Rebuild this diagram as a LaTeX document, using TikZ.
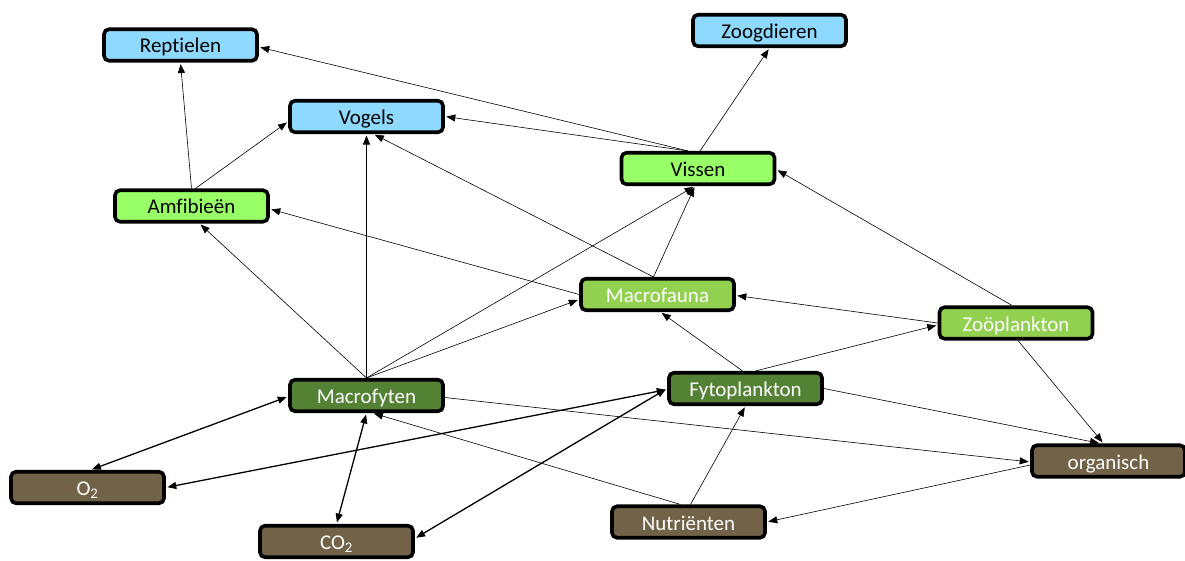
\documentclass[tikz,border=0pt]{standalone}
\usepackage{fontspec}
\setmainfont{Carlito}[Ligatures=NoCommon]
\usetikzlibrary{arrows.meta,calc}
\definecolor{cblue}{RGB}{142,217,255}
\definecolor{clgreen}{RGB}{153,255,102}
\definecolor{cmgreen}{RGB}{146,208,80}
\definecolor{cdgreen}{RGB}{84,130,53}
\definecolor{cbrown}{RGB}{114,98,72}
\begin{document}
\begin{tikzpicture}[x=1pt,y=-1pt,
  box/.style={draw=black,line width=3.6pt,rounded corners=5pt,minimum width=153pt,minimum height=31.5pt,inner sep=0pt,text height=16pt,text depth=0pt,font=\fontsize{21}{25}\selectfont},
  bluebox/.style={box,fill=cblue,text=black},
  lgbox/.style={box,fill=clgreen,text=black},
  mgbox/.style={box,fill=cmgreen,text=white},
  dgbox/.style={box,fill=cdgreen,text=white},
  brbox/.style={box,fill=cbrown,text=white},
  arr/.style={-{Triangle[length=9pt,width=7pt]},line width=0.6pt,shorten >=1.5pt},
  darr/.style={{Triangle[length=9pt,width=7pt]}-{Triangle[length=9pt,width=7pt]},line width=1.3pt,shorten >=1.5pt,shorten <=1.5pt}]
\useasboundingbox (0,0) rectangle (1185,561);
\clip (0,0) rectangle (1185,561);
\node[bluebox] (rep) at (180.5,45) {Reptielen};
\node[bluebox] (zoo) at (769.5,30.5) {Zoogdieren};
\node[bluebox] (vog) at (366.5,116.5) {Vogels};
\node[lgbox] (vis) at (698,168.5) {Vissen};
\node[lgbox] (amf) at (191.5,206) {Amfibieën};
\node[mgbox] (mfa) at (657.5,294.5) {Macrofauna};
\node[mgbox] (zop) at (1016,323) {Zoöplankton};
\node[dgbox] (mfy) at (366.5,395.5) {Macrofyten};
\node[dgbox] (fyt) at (745.5,388.5) {Fytoplankton};
\node[brbox] (o2) at (87.5,487.5) {O\textsubscript{2}};
\node[brbox] (co2) at (336.5,541.5) {CO\textsubscript{2}};
\node[brbox] (nut) at (688.5,522) {Nutriënten};
\node[brbox] (org) at (1108.5,461) {organisch};
% edges
\draw[arr] (amf.north) -- (rep.south);
\draw[arr] ($(amf.north)+(4,0)$) -- ($(vog.west)+(0,5)$);
\draw[arr] ($(vis.north)+(-10,0)$) -- ($(rep.east)+(0,2)$);
\draw[arr] ($(vis.north)+(-10,0)$) -- (vog.east);
\draw[arr] ($(vis.north)+(2,0)$) -- (zoo.south);
\draw[arr] ($(mfa.north)+(-4,0)$) -- ($(vog.south)+(7,0)$);
\draw[arr] ($(mfa.north)+(-4,0)$) -- ($(vis.south)+(-3,0)$);
\draw[arr] (mfa.west) -- ($(amf.east)+(0,3)$);
\draw[arr] (mfy.north) -- (vog.south);
\draw[arr] (mfy.north) -- ($(amf.south)+(8,0)$);
\draw[arr] (mfy.north) -- ($(vis.south)+(-3,0)$);
\draw[arr] (mfy.north) -- ($(mfa.west)+(0,5)$);
\draw[arr] ($(mfy.east)+(0,2)$) -- ($(org.west)+(0,1)$);
\draw[arr] (fyt.east) -- ($(org.north)+(-8,0)$);
\draw[arr] ($(zop.south)+(2,0)$) -- ($(org.north)+(-5,0)$);
\draw[arr] ($(zop.north)+(-4,0)$) -- ($(vis.east)+(0,1)$);
\draw[arr] (zop.west) -- ($(mfa.east)+(0,1)$);
\draw[arr] ($(fyt.north)+(10,0)$) -- ($(zop.west)+(0,2)$);
\draw[arr] ($(fyt.north)+(-3,0)$) -- ($(mfa.south)+(3,0)$);
\draw[arr] ($(nut.north)+(2,0)$) -- (fyt.south);
\draw[arr] ($(nut.north)+(-8,0)$) -- ($(mfy.south)+(6,0)$);
\draw[arr] ($(org.west)+(0,4)$) -- (nut.east);
\draw[darr] ($(mfy.west)+(0,1)$) -- ($(o2.north)+(3,0)$);
\draw[darr] (mfy.south) -- (co2.north);
\draw[darr] ($(fyt.west)+(0,1)$) -- (o2.east);
\draw[darr] (fyt.west) -- ($(co2.east)+(0,-3)$);
\end{tikzpicture}
\end{document}
